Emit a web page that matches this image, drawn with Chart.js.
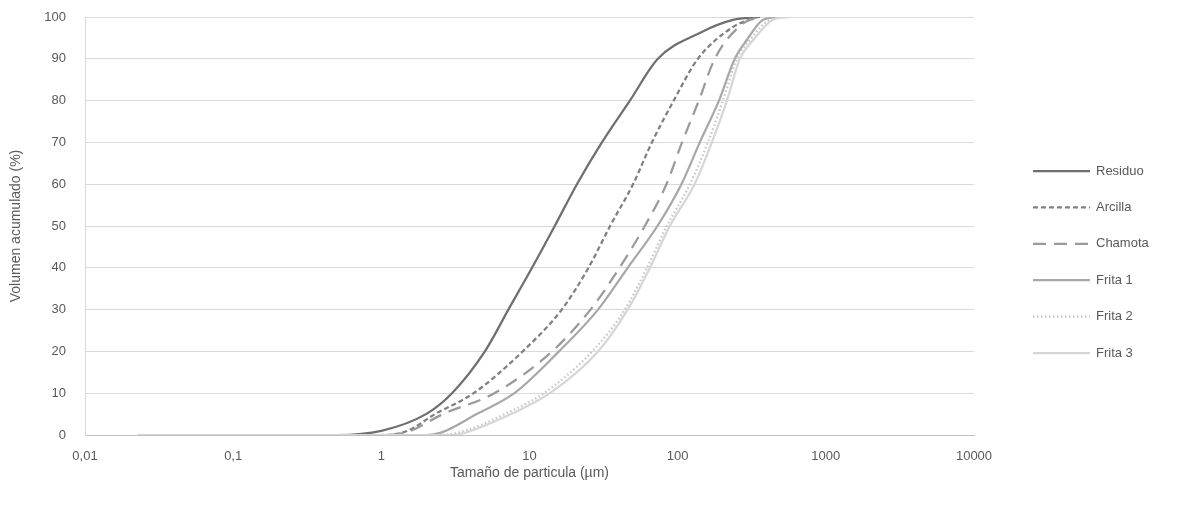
<!DOCTYPE html>
<html>
<head>
<meta charset="utf-8">
<script src="https://cdn.jsdelivr.net/npm/chart.js@4"></script>
<style>
  html, body { margin: 0; padding: 0; background: #fff; }
  #wrap { width: 1181px; height: 506px; }
</style>
</head>
<body>
<div id="wrap"><canvas id="myChart" width="1181" height="506"></canvas></div>
<script>
// particle size (µm) vs cumulative volume (%)
const residuoSize = [0.023, 0.5, 1, 2.0, 3.0, 5.0, 7.2, 10.4, 14.8, 20.9, 30.8, 47.6, 73.5, 141, 236, 359];
const residuoVol  = [0, 0, 1, 5, 10, 20, 30, 40, 50, 60, 70, 80, 90, 96.2, 99.3, 100];
const arcillaSize = [0.023, 1, 1.5, 2.3, 4.2, 9, 16.5, 25, 35, 50, 67, 94, 137, 236, 342];
const arcillaVol  = [0, 0, 1, 5, 10, 20, 30, 40, 50, 60, 70, 80, 90, 97.6, 100];
const chamotaSize = [0.023, 1, 1.5, 2.6, 5.8, 14.2, 25.8, 40.5, 60, 84, 107, 139, 178, 277, 359];
const chamotaVol  = [0, 0, 0.7, 5, 10, 20, 30, 40, 50, 60, 70, 80, 90, 98.5, 100];
const frita1Size  = [0.023, 2, 2.5, 4.4, 7.9, 15.8, 29, 46, 73, 106, 141, 190, 243, 293, 376, 490];
const frita1Vol   = [0, 0, 0.5, 5, 10, 20, 30, 40, 50, 60, 70, 80, 90, 94.5, 99.3, 100];
const frita2Size  = [0.023, 2.5, 3.8, 6.8, 12.5, 26.5, 44, 62, 84.5, 121, 160, 202, 251, 307, 417, 546];
const frita2Vol   = [0, 0, 1.2, 5, 10, 20, 30, 40, 50, 60, 70, 80, 90, 94.5, 99.3, 100];
const frita3Size  = [0.023, 3, 3.8, 7.5, 13.7, 29, 46, 65, 88.5, 130, 170, 215, 263, 324, 437, 572];
const frita3Vol   = [0, 0, 0.7, 5, 10, 20, 30, 40, 50, 60, 70, 80, 90, 94.5, 99.3, 100];

const seriesNames = ['Residuo', 'Arcilla', 'Chamota', 'Frita 1', 'Frita 2', 'Frita 3'];
const xTickValues = [0.01, 0.1, 1, 10, 100, 1000, 10000];
const xTickLabels = ['0,01', '0,1', '1', '10', '100', '1000', '10000'];
const yTickValues = [0, 10, 20, 30, 40, 50, 60, 70, 80, 90, 100];

const allSizes = [residuoSize, arcillaSize, chamotaSize, frita1Size, frita2Size, frita3Size];
const allVols = [residuoVol, arcillaVol, chamotaVol, frita1Vol, frita2Vol, frita3Vol];
const styles = [
  { color: '#6f6f6f', dash: [] },
  { color: '#808080', dash: [5, 3] },
  { color: '#9a9a9a', dash: [13, 8] },
  { color: '#a8a8a8', dash: [] },
  { color: '#c4c4c4', dash: [1.5, 2.5] },
  { color: '#d6d6d6', dash: [] }
];

const font = "'Liberation Sans', Arial, sans-serif";
const textColor = '#595959';

// legend on the right: line sample + name, in series order
const sideLegend = {
  id: 'sideLegend',
  afterDraw(chart) {
    const ctx = chart.ctx;
    ctx.save();
    chart.data.datasets.forEach((ds) => {
      const i = seriesNames.indexOf(ds.label);
      const y = 171 + i * 36.4;
      ctx.beginPath();
      ctx.strokeStyle = ds.borderColor;
      ctx.lineWidth = ds.borderWidth;
      ctx.setLineDash(ds.borderDash || []);
      ctx.moveTo(1033, y);
      ctx.lineTo(1090, y);
      ctx.stroke();
      ctx.setLineDash([]);
      ctx.fillStyle = textColor;
      ctx.font = '13px ' + font;
      ctx.textBaseline = 'middle';
      ctx.textAlign = 'left';
      ctx.fillText(ds.label, 1096, y);
    });
    ctx.restore();
  }
};

const ctx = document.getElementById('myChart').getContext('2d');
const myChart = new Chart(ctx, {
  type: 'scatter',
  data: {
    // drawn light-to-dark so Residuo ends up on top
    datasets: seriesNames.map((name, i) => ({
      label: name,
      data: allSizes[i].map((s, j) => ({ x: s, y: allVols[i][j] })),
      showLine: true,
      borderColor: styles[i].color,
      borderDash: styles[i].dash,
      borderWidth: 2.25,
      pointRadius: 0,
      cubicInterpolationMode: 'monotone'
    })).reverse()
  },
  options: {
    responsive: false,
    animation: false,
    layout: { padding: { left: 0, top: 17, right: 207, bottom: 0 } },
    plugins: {
      legend: { display: false },
      tooltip: { enabled: false }
    },
    scales: {
      x: {
        type: 'logarithmic',
        min: 0.01,
        max: 10000,
        afterBuildTicks: (axis) => { axis.ticks = xTickValues.map(v => ({ value: v })); },
        afterFit: (axis) => { axis.height = 71; },
        ticks: {
          color: textColor,
          font: { family: font, size: 13 },
          padding: 14,
          maxRotation: 0,
          autoSkip: false,
          callback: (v) => xTickLabels[xTickValues.indexOf(v)]
        },
        grid: { display: false, drawTicks: false },
        border: { display: true, color: '#bfbfbf', width: 1 },
        title: {
          display: true,
          text: 'Tamaño de particula (µm)',
          color: textColor,
          font: { family: font, size: 14 },
          padding: { top: 0, bottom: 24 }
        }
      },
      y: {
        min: 0,
        max: 100,
        afterBuildTicks: (axis) => { axis.ticks = yTickValues.map(v => ({ value: v })); },
        afterFit: (axis) => {
          axis.width = 85;
          axis.paddingTop = 0;
          axis.paddingBottom = 0;
        },
        ticks: {
          color: textColor,
          font: { family: font, size: 13 },
          padding: 19
        },
        grid: { color: '#d9d9d9', lineWidth: 1, drawTicks: false },
        border: { display: true, color: '#d9d9d9' },
        title: {
          display: true,
          text: 'Volumen acumulado (%)',
          color: textColor,
          font: { family: font, size: 14 },
          padding: { top: 8, bottom: 0 }
        }
      }
    }
  },
  plugins: [sideLegend]
});
</script>
</body>
</html>
